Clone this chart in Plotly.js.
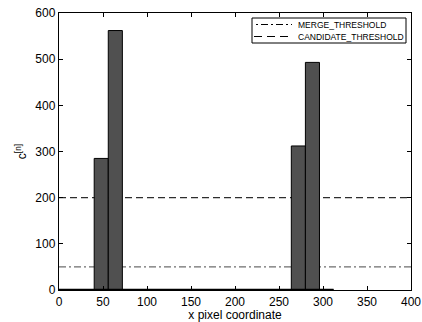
<!DOCTYPE html>
<html><head><meta charset="utf-8">
<script src="https://cdn.plot.ly/plotly-3.0.1.min.js"></script>
<style>html,body{margin:0;padding:0;background:#fff}#chart{width:422px;height:322px}</style>
</head><body><div id="chart"></div>
<script>
// Histogram bin centres (x pixel coordinate) and counts c^[n]
const binCenters = [0,16,32,48,64,80,96,112,128,144,160,176,192,208,224,240,256,272,288,304];
const counts     = [0,0,0,285,562,0,0,0,0,0,0,0,0,0,0,0,0,312,493,0];
const binWidth = 16;
const MERGE_THRESHOLD = 50;
const CANDIDATE_THRESHOLD = 200;
const seriesNames = ['MERGE_THRESHOLD', 'CANDIDATE_THRESHOLD'];
const xRange = [0, 400];
const yRange = [0, 600];
const xTicks = [0,50,100,150,200,250,300,350,400];
const yTicks = [0,100,200,300,400,500,600];

const W = 422, H = 322;
const M = {l:59, r:11, t:13, b:32};
const px = v => (v - M.l) / (W - M.l - M.r);      // pixel -> paper x
const py = v => (H - M.b - v) / (H - M.t - M.b);  // pixel -> paper y

const font = {family: 'Liberation Sans, Arial, Helvetica, sans-serif', color: '#000'};
const mergeLine = {color:'#6e6e6e', width:1.2, dash:'7px,3px,2px,3px'};
const candLine  = {color:'#2e2e2e', width:1.2, dash:'7px,4px'};

const traces = [
  {type:'bar', x: binCenters, y: counts, width: binWidth,
   marker:{color:'#505050', line:{color:'#000', width:1}}, showlegend:false, hoverinfo:'skip'},
  {type:'scatter', mode:'lines',
   x:[binCenters[0]-binWidth/2, binCenters[binCenters.length-1]+binWidth/2], y:[0,0],
   line:{color:'#000', width:2.5}, showlegend:false, hoverinfo:'skip', cliponaxis:false}
];

const layout = {
  width:W, height:H,
  margin:M,
  paper_bgcolor:'#fff', plot_bgcolor:'#fff',
  font: Object.assign({size:11}, font),
  bargap:0,
  showlegend:false,
  shapes:[
    {type:'line', xref:'x', yref:'y', x0:xRange[0], x1:xRange[1], y0:MERGE_THRESHOLD, y1:MERGE_THRESHOLD,
     layer:'below', line:mergeLine},
    {type:'line', xref:'x', yref:'y', x0:xRange[0], x1:xRange[1], y0:CANDIDATE_THRESHOLD, y1:CANDIDATE_THRESHOLD,
     layer:'below', line:candLine},
    // legend box
    {type:'rect', xref:'paper', yref:'paper', x0:px(252), x1:px(406), y0:py(43), y1:py(18),
     fillcolor:'#fff', line:{color:'#000', width:1}, layer:'above'},
    {type:'line', xref:'paper', yref:'paper', x0:px(256), x1:px(292), y0:py(24.5), y1:py(24.5),
     line:{color:'#000', width:1, dash:'2px,3px,7px,3px'}, layer:'above'},
    {type:'line', xref:'paper', yref:'paper', x0:px(254), x1:px(292), y0:py(36.5), y1:py(36.5),
     line:{color:'#000', width:1, dash:'8px,5px'}, layer:'above'}
  ],
  annotations:[
    {xref:'paper', yref:'paper', x:px(296), y:py(24.5), xanchor:'left', yanchor:'middle',
     text:seriesNames[0], showarrow:false, font:Object.assign({size:8.5}, font)},
    {xref:'paper', yref:'paper', x:px(296), y:py(36.5), xanchor:'left', yanchor:'middle',
     text:seriesNames[1], showarrow:false, font:Object.assign({size:8.5}, font)}
  ],
  xaxis:{range:xRange, tickvals:xTicks, ticktext:xTicks.map(String), ticks:'inside', ticklen:4,
         tickcolor:'#000', showline:true, linecolor:'#000', linewidth:1.2, mirror:'ticks',
         showgrid:false, zeroline:false, tickfont:Object.assign({size:12}, font),
         title:{text:'x pixel coordinate', font:Object.assign({size:12}, font), standoff:2}},
  yaxis:{range:yRange, tickvals:yTicks, ticktext:yTicks.map(String), ticks:'inside', ticklen:4,
         tickcolor:'#000', showline:true, linecolor:'#000', linewidth:1.2, mirror:'ticks',
         showgrid:false, zeroline:false, tickfont:Object.assign({size:12}, font),
         title:{text:'c<sup>[n]</sup>', font:Object.assign({size:12}, font), standoff:6}}
};

Plotly.newPlot('chart', traces, layout, {staticPlot:true});
</script></body></html>
